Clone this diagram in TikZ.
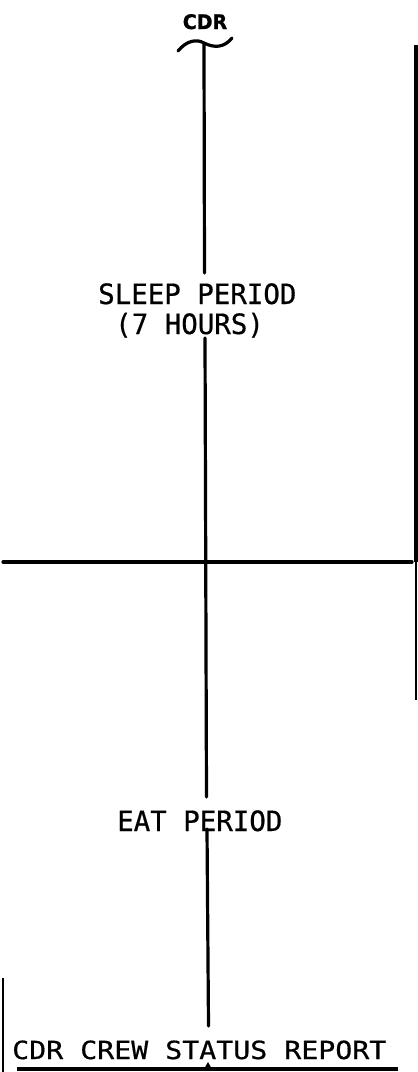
\documentclass[tikz,border=0pt]{standalone}
\usepackage{fontspec}
\newfontfamily\monoA[FakeStretch=0.98,FakeBold=0.6]{DejaVu Sans Mono}
\newfontfamily\monoB[FakeStretch=1.13,FakeBold=0.6]{DejaVu Sans Mono}
\newfontfamily\boldhead[FakeStretch=0.95,FakeBold=1.2]{DejaVu Sans Bold}
\begin{document}
\begin{tikzpicture}[x=1pt,y=-1pt,
  rule/.style={line width=3.2pt,line cap=round},
  thinrule/.style={line width=1.6pt},
  label/.style={anchor=base west,inner sep=0pt,font=\monoA\fontsize{28}{30}\selectfont},
  foot/.style={anchor=base west,inner sep=0pt,font=\monoB\fontsize{25}{27}\selectfont},
  head/.style={anchor=base,inner sep=0pt,font=\boldhead\fontsize{20}{21}\selectfont}]
\useasboundingbox (0,0) rectangle (418,1072);
% texts
\node[head] (cdr) at (205,29) {CDR};
\node[label] (sleep) at (98,304) {SLEEP PERIOD};
\node[label] (hours) at (115,334) {(7 HOURS)};
\node[label] (eat) at (117,831) {EAT PERIOD};
\node[foot] (report) at (12,1059) {CDR CREW STATUS REPORT};
% coordinates
\coordinate (t0) at (178,51);
\coordinate (t1) at (204,43);
\coordinate (t2) at (232,38);
\coordinate (v0) at (204,44);
\coordinate (v1) at (204.5,273);
\coordinate (v2) at (205,338);
\coordinate (v3) at (206.5,797);
\coordinate (v4) at (207,829);
\coordinate (v5) at (208.5,1026);
\coordinate (hl) at (3,562);
\coordinate (hr) at (412,562);
\coordinate (r0) at (416,45);
\coordinate (r1) at (416,562);
\coordinate (r2) at (416,700);
\coordinate (l0) at (3,978);
\coordinate (l1) at (3,1072);
\coordinate (b0) at (17,1069);
\coordinate (b1) at (398,1069);
\coordinate (tri) at (208,1062);
% tilde
\draw[rule] (t0) .. controls (187,40) and (197,39) .. (t1) .. controls (214,48) and (224,48) .. (t2);
% main vertical
\draw[rule] (v0) -- (v1);
\draw[rule] (v2) -- (v3);
\draw[rule] (v4) -- (v5);
% horizontal
\draw[rule] (hl) -- (hr);
% right border
\draw[rule,line cap=butt] (r0) -- (r1);
\draw[thinrule] (r1) -- (r2);
% left border
\draw[thinrule] (l0) -- (l1);
% bottom rule
\draw[rule,line cap=butt] (b0) -- (b1);
\fill (tri) -- ++(-4,7) -- ++(8,0) -- cycle;
\end{tikzpicture}
\end{document}
